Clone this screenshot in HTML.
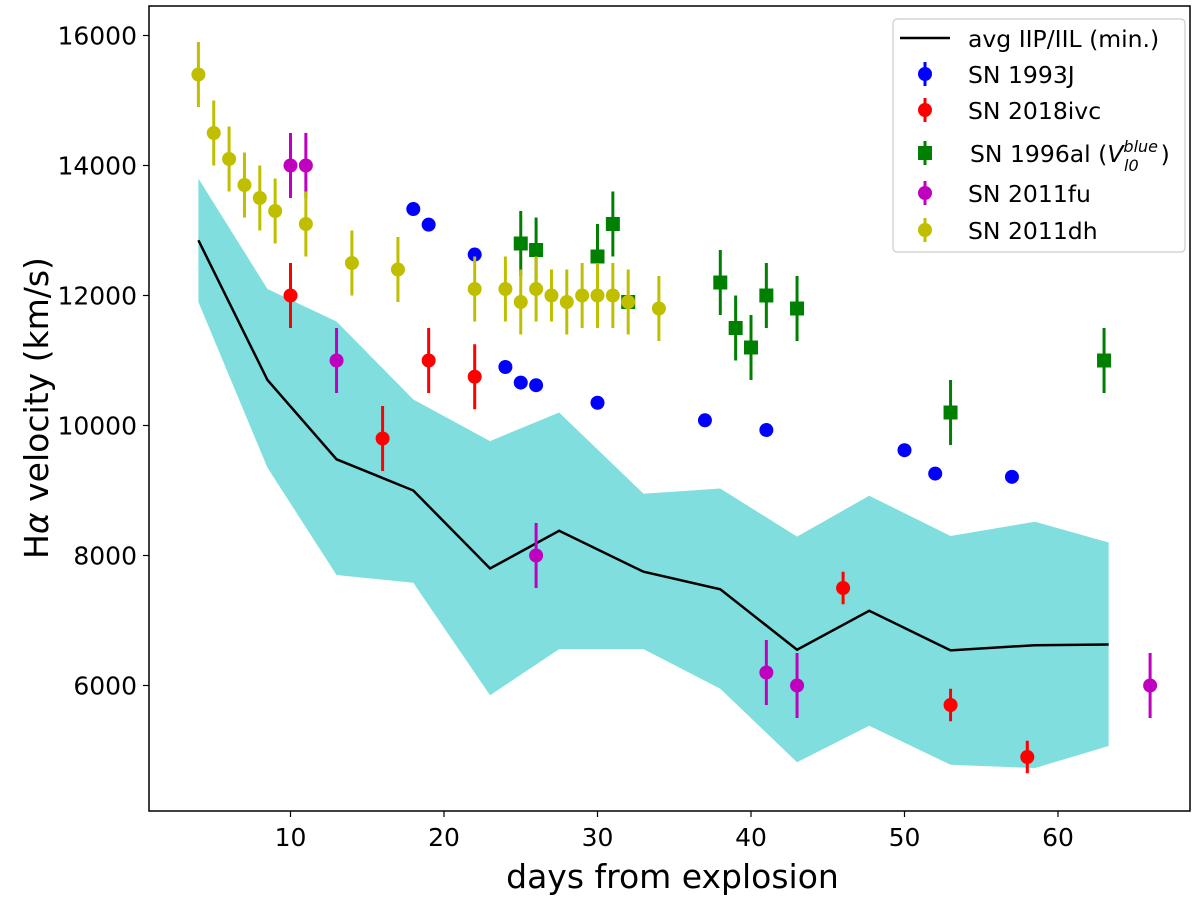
<!DOCTYPE html>
<html><head><meta charset="utf-8"><style>
body{margin:0;background:#fff}
svg text{font-family:"DejaVu Sans","Liberation Sans",sans-serif;fill:#000}
</style></head><body>
<svg id="chart" width="1200" height="902" xmlns="http://www.w3.org/2000/svg">
<g id="plot"></g>
</svg>
<script>
const avgDays=[4,8.5,13,18,23,27.5,33,38,43,47.7,53,58.5,63.3];
const avgVel=[12850,10700,9480,9000,7800,8380,7750,7480,6550,7150,6540,6620,6630];
const bandUpper=[13800,12100,11600,10400,9760,10200,8950,9030,8290,8920,8300,8520,8200];
const bandLower=[11900,9350,7700,7580,5850,6560,6560,5950,4820,5380,4780,4730,5070];
const sn1993jDays=[18,19,22,24,25,26,30,37,41,50,52,57];
const sn1993jVel=[13330,13090,12630,10900,10660,10620,10350,10080,9930,9620,9260,9210];
const sn2018Days=[10,16,19,22,46,53,58];
const sn2018Vel=[12000,9800,11000,10750,7500,5700,4900];
const sn2018Err=[500,500,500,500,250,250,250];
const sn1996Days=[25,26,30,31,32,38,39,40,41,43,53,63];
const sn1996Vel=[12800,12700,12600,13100,11900,12200,11500,11200,12000,11800,10200,11000];
const sn1996Err=[500,500,500,500,100,500,500,500,500,500,500,500];
const sn2011fuDays=[10,11,13,26,41,43,66];
const sn2011fuVel=[14000,14000,11000,8000,6200,6000,6000];
const sn2011fuErr=[500,500,500,500,500,500,500];
const sn2011dhDays=[4,5,6,7,8,9,11,14,17,22,24,25,26,27,28,29,30,31,32,34];
const sn2011dhVel=[15400,14500,14100,13700,13500,13300,13100,12500,12400,12100,12100,11900,12100,12000,11900,12000,12000,12000,11900,11800];
const sn2011dhErr=[500,500,500,500,500,500,500,500,500,500,500,500,500,400,500,500,500,500,500,500];
const xTicks=[10,20,30,40,50,60];
const yTicks=[6000,8000,10000,12000,14000,16000];

const NS="http://www.w3.org/2000/svg";
const g=document.getElementById('plot');
const L=149,R=1190,T=6,B=811;
const X=d=>137+(d-10)*15.35+153.5;
const Y=v=>35.5+(16000-v)*0.065;
function mk(t,a,parent){const e=document.createElementNS(NS,t);for(const k in a)e.setAttribute(k,a[k]);(parent||g).appendChild(e);return e;}

let pts=avgDays.map((d,i)=>X(d)+','+Y(bandUpper[i]));
for(let i=avgDays.length-1;i>=0;i--)pts.push(X(avgDays[i])+','+Y(bandLower[i]));
const band=mk('polygon',{points:pts.join(' '),fill:'#80dede',stroke:'none'});


const line=mk('polyline',{points:avgDays.map((d,i)=>X(d)+','+Y(avgVel[i])).join(' '),fill:'none',stroke:'#000','stroke-width':2.5});



function series(days,vel,err,color,square,name){
  days.forEach((d,i)=>{
    const x=X(d),y=Y(vel[i]);
    if(err&&err[i]){
      const e=mk('line',{x1:x,x2:x,y1:Y(vel[i]+err[i]),y2:Y(vel[i]-err[i]),stroke:color,'stroke-width':3});
      
      
    }
    let m;
    if(square)m=mk('rect',{x:x-7,y:y-7,width:14,height:14,fill:color});
    else m=mk('circle',{cx:x,cy:y,r:7,fill:color});
    
    
  });
}
series(sn1993jDays,sn1993jVel,null,'#0000ff',false,'sn1993j');
series(sn2018Days,sn2018Vel,sn2018Err,'#ff0000',false,'sn2018ivc');
series(sn1996Days,sn1996Vel,sn1996Err,'#008000',true,'sn1996al');
series(sn2011fuDays,sn2011fuVel,sn2011fuErr,'#bf00bf',false,'sn2011fu');
series(sn2011dhDays,sn2011dhVel,sn2011dhErr,'#bfbf00',false,'sn2011dh');

const frame=mk('rect',{x:L,y:T,width:R-L,height:B-T,fill:'none',stroke:'#000','stroke-width':1.5});


xTicks.forEach(t=>{
  const tk=mk('line',{x1:X(t),x2:X(t),y1:B,y2:B+6,stroke:'#000','stroke-width':1.2});
  
  
  const tx=mk('text',{x:X(t),y:B+35,'font-size':25,'text-anchor':'middle'});
  tx.textContent=t;
  
  
});
yTicks.forEach(t=>{
  const tk=mk('line',{x1:L-6,x2:L,y1:Y(t),y2:Y(t),stroke:'#000','stroke-width':1.2});
  
  
  const tx=mk('text',{x:L-12,y:Y(t)+9,'font-size':25,'text-anchor':'end'});
  tx.textContent=t;
  
  
});
const xt=mk('text',{x:(L+R)/2+3,y:888,'font-size':33,'text-anchor':'middle'});
xt.textContent='days from explosion';


const yt=mk('text',{x:0,y:0,'font-size':33,'text-anchor':'middle',transform:'translate(48,408) rotate(-90)'});
yt.innerHTML='H<tspan font-style="italic">α</tspan> velocity (km/s)';



const lg=mk('g',{});


mk('rect',{x:893,y:19,width:292,height:233,rx:4,fill:'#fff','fill-opacity':0.8,stroke:'#ccc','stroke-width':1.2},lg);
mk('line',{x1:900,x2:950,y1:38,y2:38,stroke:'#000','stroke-width':2.5},lg);
const entries=[['SN 1993J','#0000ff',false,74],['SN 2018ivc','#ff0000',false,110],['SN 1996al','#008000',true,153],['SN 2011fu','#bf00bf',false,193],['SN 2011dh','#bfbf00',false,230]];
const t0=mk('text',{x:968,y:47,'font-size':23.5},lg);t0.textContent='avg IIP/IIL (min.)';


entries.forEach(([n,c,sq,y])=>{
  mk('line',{x1:925,x2:925,y1:y-12,y2:y+12,stroke:c,'stroke-width':3},lg);
  if(sq)mk('rect',{x:918,y:y-7,width:14,height:14,fill:c},lg);else mk('circle',{cx:925,cy:y,r:7,fill:c},lg);
  const t=mk('text',{x:sq?970:968,y:y+9,'font-size':23.5},lg);
  if(sq)t.innerHTML='SN 1996al (<tspan font-style="italic">V</tspan><tspan font-size="16" font-style="italic" dy="-10">blue</tspan><tspan font-size="16" font-style="italic" dx="-34" dy="19">l0</tspan><tspan dx="22" dy="-9">)</tspan>';
  else t.textContent=n;
  
  
});
</script>
</body></html>
